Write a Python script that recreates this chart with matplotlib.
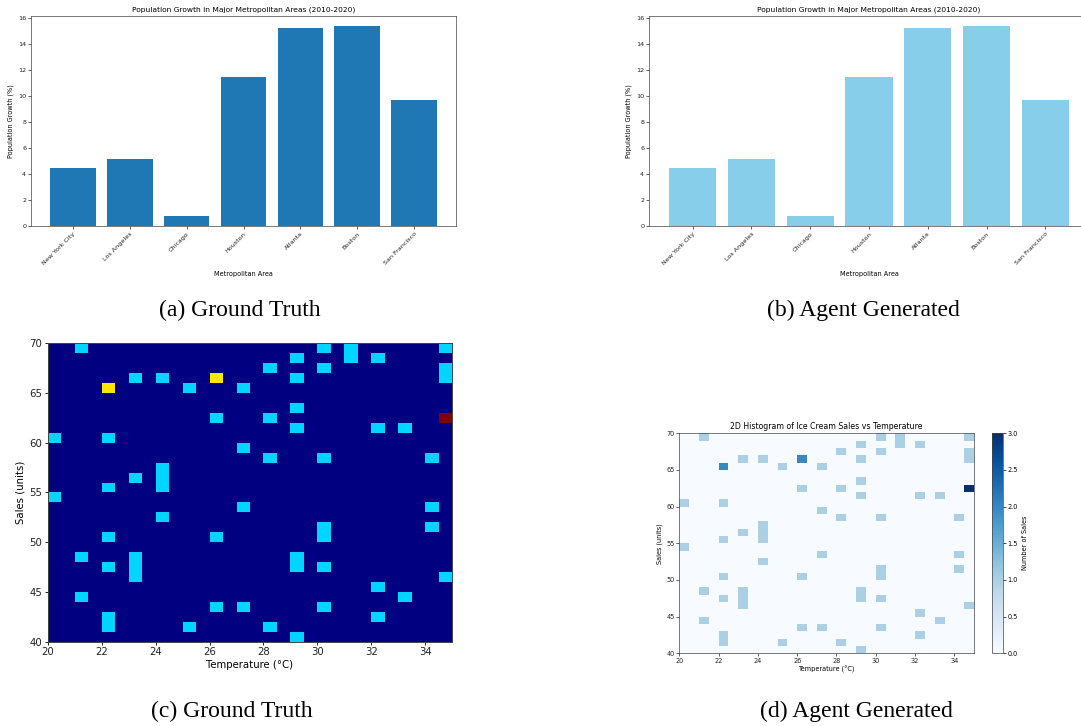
import matplotlib
matplotlib.use("Agg")
from matplotlib import pyplot as plt

W, H = 1081, 726

# bar chart data
cities = ["New York City", "Los Angeles", "Chicago", "Houston",
          "Atlanta", "Boston", "San Francisco"]
growth = [4.45, 5.2, 0.8, 11.5, 15.25, 15.4, 9.72]

# ice cream sales points (temperature, sales)
temps = [21, 22, 22, 23, 24, 25, 26, 26, 27, 26, 20, 22, 27, 23, 24, 24, 24,
         22, 20, 27, 24, 22, 26, 21, 22, 23, 23, 23, 21, 26, 27, 22, 22, 25,
         30, 31, 31, 35, 29, 32, 28, 30, 35, 35, 29, 29, 28, 35, 35, 35, 29,
         32, 33, 28, 30, 34, 34, 30, 30, 34, 29, 29, 30, 35, 32, 33, 30, 32,
         28, 29]
sales = [69, 65, 65, 66, 66, 65, 66, 66, 65, 62, 60, 60, 59, 56, 55, 56, 57,
         55, 54, 53, 52, 50, 50, 48, 47, 46, 47, 48, 44, 43, 43, 41, 42, 41,
         69, 68, 69, 69, 68, 68, 67, 67, 66, 67, 66, 63, 62, 62, 62, 62, 61,
         61, 61, 58, 58, 58, 53, 50, 51, 51, 47, 48, 47, 46, 45, 44, 43, 42,
         41, 40]

temp_range = [20, 35]
sales_range = [40, 70]
n_bins = 30

captions = ["(a) Ground Truth", "(b) Agent Generated",
            "(c) Ground Truth", "(d) Agent Generated"]


def box(l, t, r, b):
    return [l / W, 1 - b / H, (r - l) / W, (b - t) / H]


def style_axes(ax, fs, lw=0.5, tl=2.0):
    for s in ax.spines.values():
        s.set_linewidth(lw)
        s.set_color("#444444")
    ax.tick_params(labelsize=fs, length=tl, width=lw, pad=1.5,
                   colors="#222222")


def bar_panel(ax, color):
    ax.bar(cities, growth, color=color)
    ax.set_title("Population Growth in Major Metropolitan Areas (2010-2020)",
                 fontsize=5.4, pad=3)
    ax.set_xlabel("Metropolitan Area", fontsize=4.7, labelpad=3.5)
    ax.set_ylabel("Population Growth (%)", fontsize=4.7, labelpad=3)
    style_axes(ax, 4.6)
    plt.setp(ax.get_xticklabels(), rotation=45, ha="right",
             rotation_mode="anchor")


fig = plt.figure(figsize=(W / 100, H / 100), dpi=100)

# (a)
ax_a = fig.add_axes(box(31, 16, 456, 226.3))
bar_panel(ax_a, "#1f77b4")

# (b)
ax_b = fig.add_axes(box(649, 16, 1089, 226.3))
bar_panel(ax_b, "skyblue")

# (c)
ax_c = fig.add_axes(box(48, 343.3, 452, 641.7))
ax_c.hist2d(temps, sales, bins=n_bins, range=[temp_range, sales_range],
            cmap="jet")
ax_c.set_xlabel("Temperature (°C)", fontsize=7.3, labelpad=2)
ax_c.set_ylabel("Sales (units)", fontsize=7.3, labelpad=3)
style_axes(ax_c, 7.3, lw=0.7, tl=2.5)

# (d)
ax_d = fig.add_axes(box(679.3, 433.3, 974, 653.3))
h = ax_d.hist2d(temps, sales, bins=n_bins, range=[temp_range, sales_range],
                cmap="Blues")
ax_d.set_title("2D Histogram of Ice Cream Sales vs Temperature",
               fontsize=5.6, pad=3)
ax_d.set_xlabel("Temperature (°C)", fontsize=4.7, labelpad=1.5)
ax_d.set_ylabel("Sales (units)", fontsize=4.7, labelpad=2)
style_axes(ax_d, 4.7)
cax = fig.add_axes(box(992.3, 433.3, 1002.7, 653.3))
cb = fig.colorbar(h[3], cax=cax)
cb.set_label("Number of Sales", fontsize=4.7, labelpad=3)
cb.outline.set_linewidth(0.5)
cb.outline.set_edgecolor("#444444")
cax.tick_params(labelsize=4.7, length=2, width=0.5, pad=1.5)

# captions
cap_pos = [(240, 310), (863, 310), (232, 711), (856, 711)]
for text, (cx, cy) in zip(captions, cap_pos):
    fig.text(cx / W, 1 - cy / H, text, ha="center", va="center",
             fontsize=17, family="Liberation Serif")

fig.savefig("out.png", dpi=100)
